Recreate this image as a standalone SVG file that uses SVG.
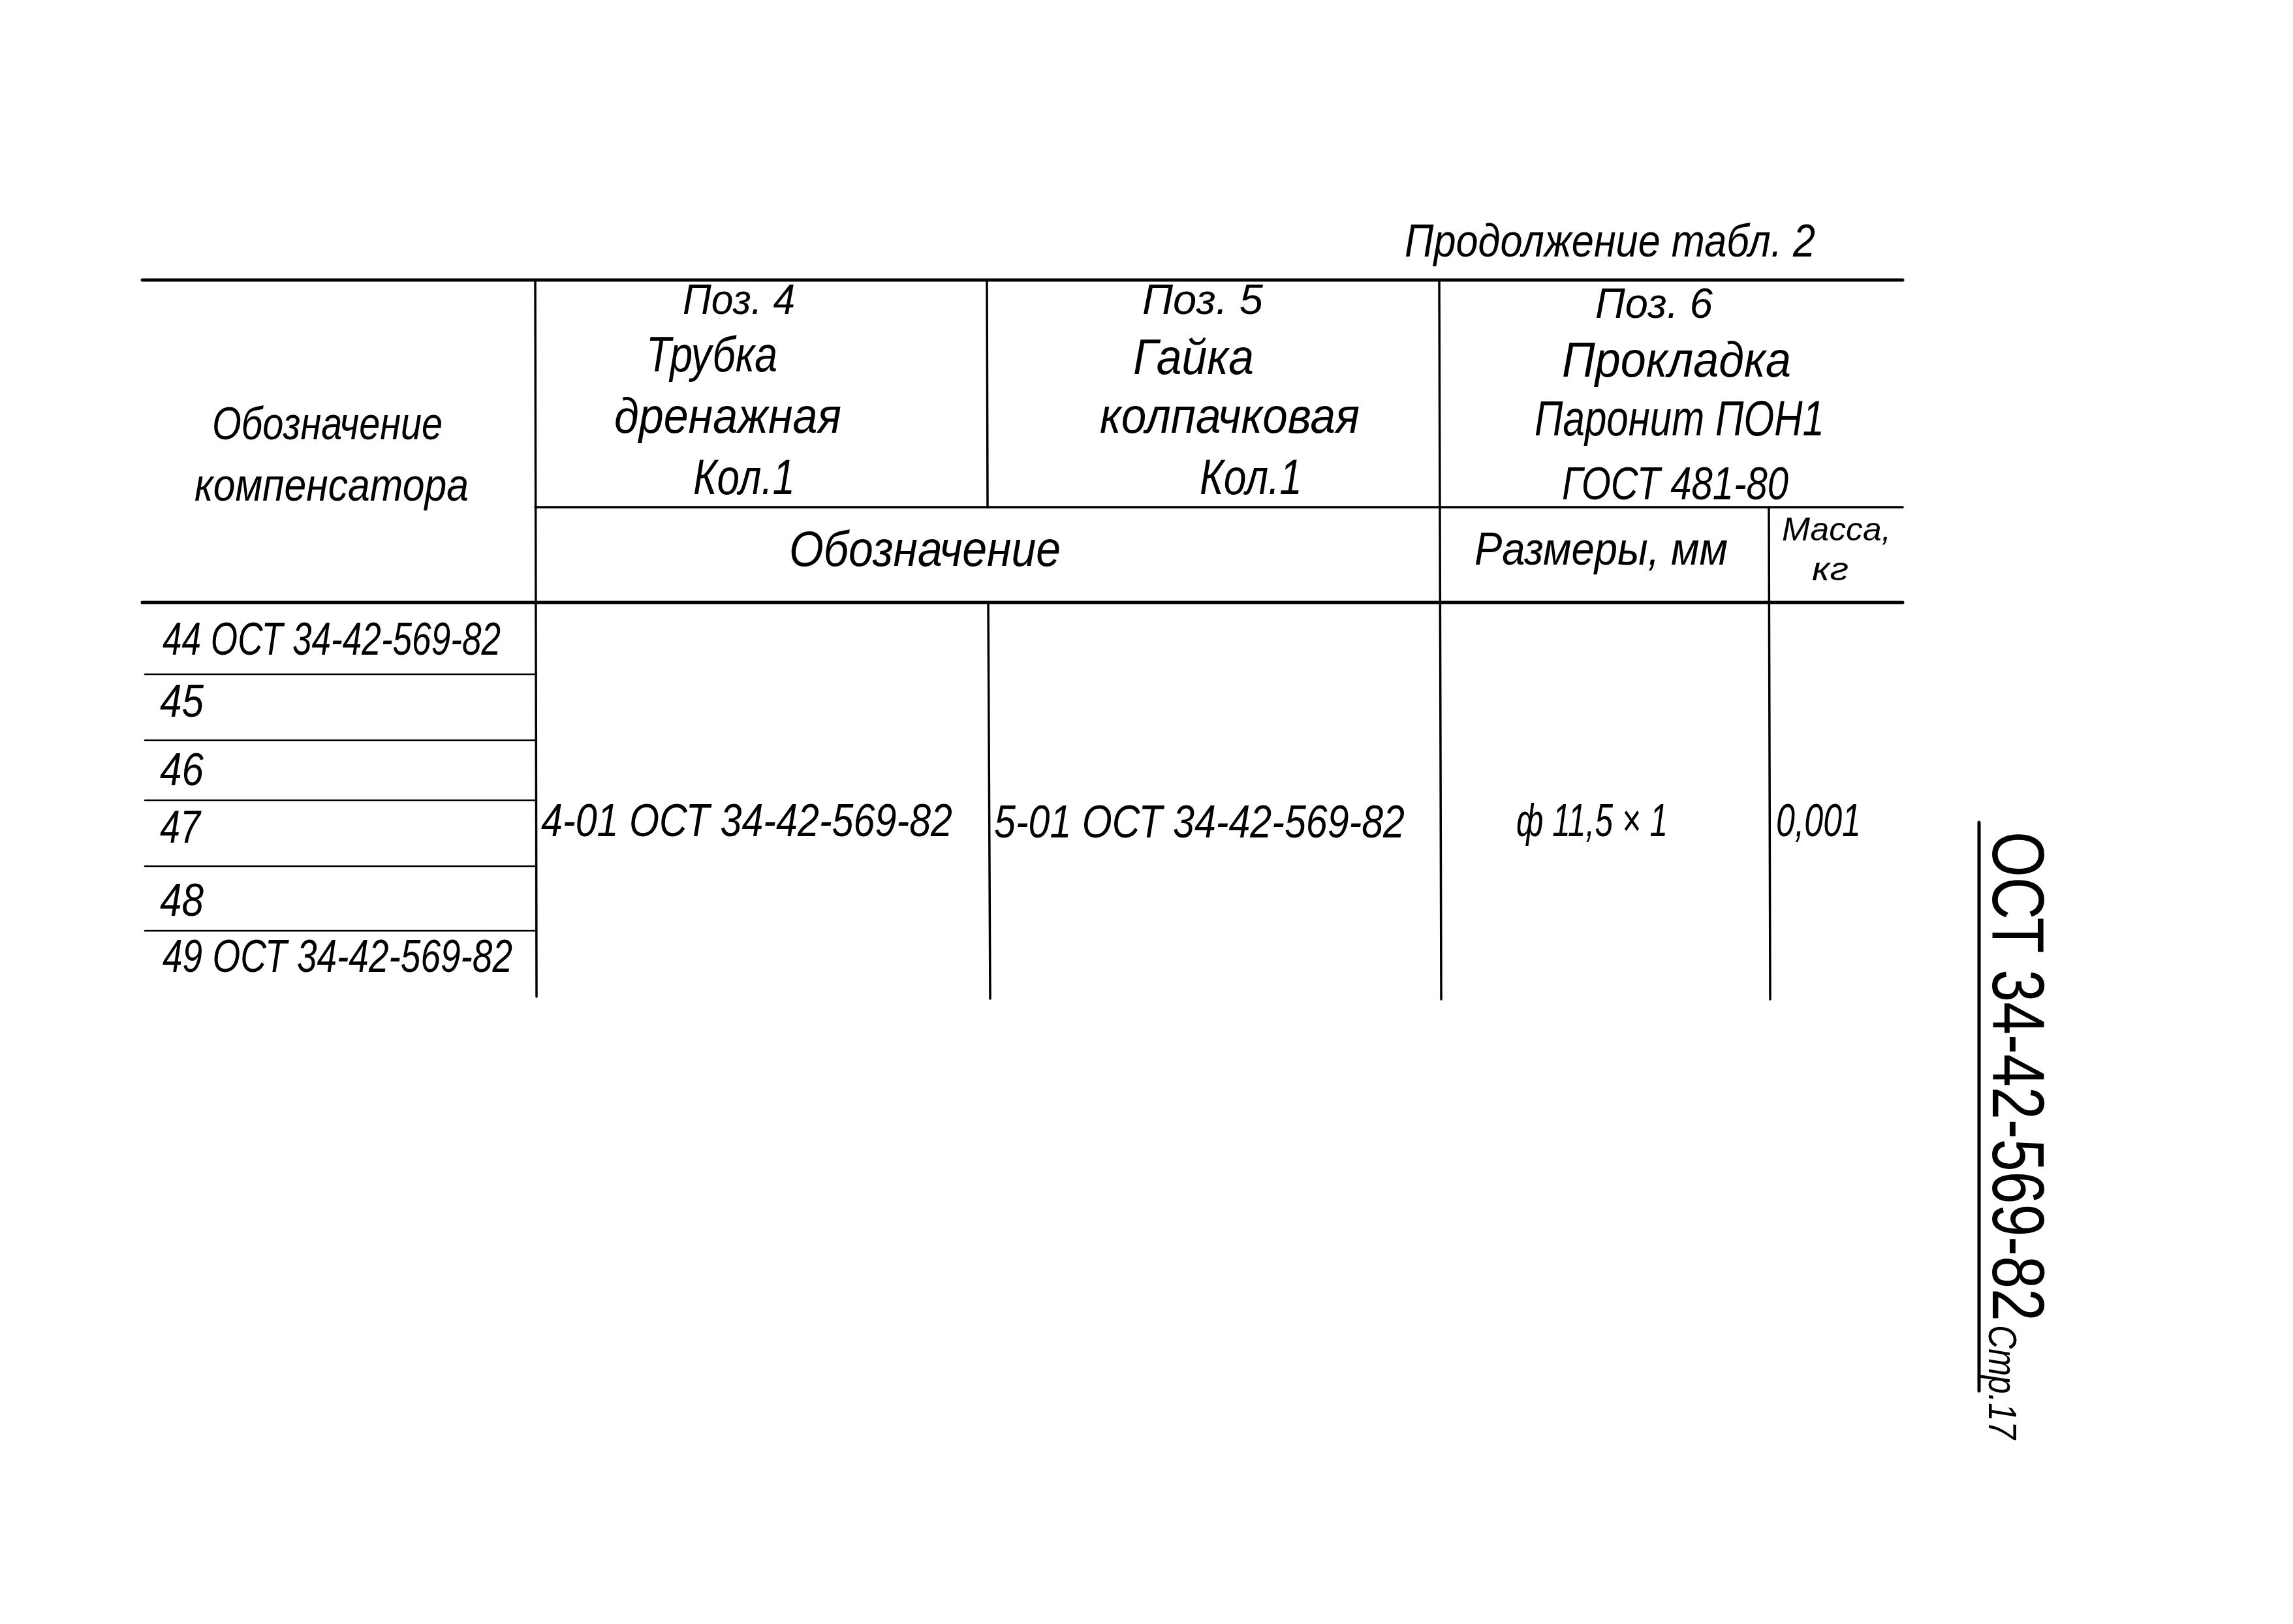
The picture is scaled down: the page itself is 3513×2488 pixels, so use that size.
<svg xmlns="http://www.w3.org/2000/svg" width="3513" height="2488" viewBox="0 0 3513 2488">
<style>
.t{font-family:"Liberation Sans","DejaVu Sans",sans-serif;font-style:italic;font-size:70px;fill:#000}
.p{font-size:64px}
.b{font-size:76px}
.s{font-size:50px}
.thick{stroke:#000;stroke-width:5;fill:none;stroke-linecap:round}
.mid{stroke:#000;stroke-width:3.5;fill:none;stroke-linecap:round}
.thin{stroke:#000;stroke-width:2.5;fill:none;stroke-linecap:round}
</style>
<rect width="3513" height="2488" fill="#fff"/>
<g id="caption">
<text class="t" x="2152" y="393" textLength="629" lengthAdjust="spacingAndGlyphs">Продолжение табл. 2</text>
</g>
<g id="grid">
<line class="thick" x1="218" y1="429" x2="2915" y2="429"/>
<line class="thick" x1="218" y1="923" x2="2915" y2="923"/>
<line class="mid" x1="820" y1="777" x2="2915" y2="777"/>
<line class="mid" x1="820" y1="429" x2="822" y2="1527"/>
<line class="mid" x1="1512" y1="429" x2="1513" y2="777"/>
<line class="mid" x1="1514" y1="923" x2="1517" y2="1530"/>
<line class="mid" x1="2205" y1="429" x2="2208" y2="1531"/>
<line class="mid" x1="2710" y1="777" x2="2712" y2="1531"/>
<line class="thin" x1="222" y1="1033" x2="822" y2="1033"/>
<line class="thin" x1="222" y1="1134" x2="822" y2="1134"/>
<line class="thin" x1="222" y1="1226" x2="822" y2="1226"/>
<line class="thin" x1="222" y1="1327" x2="822" y2="1327"/>
<line class="thin" x1="222" y1="1426" x2="822" y2="1426"/>
</g>
<g id="head-comp">
<text class="t" x="325" y="673" textLength="353" lengthAdjust="spacingAndGlyphs">Обозначение</text>
<text class="t" x="298" y="767" textLength="420" lengthAdjust="spacingAndGlyphs">компенсатора</text>
</g>
<g id="head-poz4">
<text class="t p" x="1046" y="481" textLength="172" lengthAdjust="spacingAndGlyphs">Поз. 4</text>
<text class="t b" x="990" y="569" textLength="201" lengthAdjust="spacingAndGlyphs">Трубка</text>
<text class="t b" x="941" y="663" textLength="348" lengthAdjust="spacingAndGlyphs">дренажная</text>
<text class="t b" x="1062" y="757" textLength="156" lengthAdjust="spacingAndGlyphs">Кол.1</text>
</g>
<g id="head-poz5">
<text class="t p" x="1750" y="481" textLength="185" lengthAdjust="spacingAndGlyphs">Поз. 5</text>
<text class="t b" x="1736" y="573" textLength="185" lengthAdjust="spacingAndGlyphs">Гайка</text>
<text class="t b" x="1685" y="663" textLength="398" lengthAdjust="spacingAndGlyphs">колпачковая</text>
<text class="t b" x="1838" y="757" textLength="157" lengthAdjust="spacingAndGlyphs">Кол.1</text>
</g>
<g id="head-poz6">
<text class="t p" x="2444" y="487" textLength="180" lengthAdjust="spacingAndGlyphs">Поз. 6</text>
<text class="t b" x="2393" y="577" textLength="351" lengthAdjust="spacingAndGlyphs">Прокладка</text>
<text class="t b" x="2351" y="667" textLength="444" lengthAdjust="spacingAndGlyphs">Паронит ПОН1</text>
<text class="t" x="2393" y="765" textLength="347" lengthAdjust="spacingAndGlyphs">ГОСТ 481-80</text>
</g>
<g id="head-row2">
<text class="t b" x="1209" y="867" textLength="416" lengthAdjust="spacingAndGlyphs">Обозначение</text>
<text class="t" x="2259" y="865" textLength="388" lengthAdjust="spacingAndGlyphs">Размеры, мм</text>
<text class="t s" x="2730" y="828" textLength="167" lengthAdjust="spacingAndGlyphs">Масса,</text>
<text class="t s" x="2776" y="889" textLength="56" lengthAdjust="spacingAndGlyphs">кг</text>
</g>
<g id="rows">
<text class="t" x="249" y="1003" textLength="518" lengthAdjust="spacingAndGlyphs">44 ОСТ 34-42-569-82</text>
<text class="t" x="245" y="1098" textLength="67" lengthAdjust="spacingAndGlyphs">45</text>
<text class="t" x="245" y="1203" textLength="67" lengthAdjust="spacingAndGlyphs">46</text>
<text class="t" x="245" y="1291" textLength="62" lengthAdjust="spacingAndGlyphs">47</text>
<text class="t" x="245" y="1403" textLength="67" lengthAdjust="spacingAndGlyphs">48</text>
<text class="t" x="249" y="1489" textLength="536" lengthAdjust="spacingAndGlyphs">49 ОСТ 34-42-569-82</text>
</g>
<g id="values">
<text class="t" x="829" y="1281" textLength="630" lengthAdjust="spacingAndGlyphs">4-01 ОСТ 34-42-569-82</text>
<text class="t" x="1523" y="1283" textLength="629" lengthAdjust="spacingAndGlyphs">5-01 ОСТ 34-42-569-82</text>
<text class="t" x="2323" y="1281" textLength="232" lengthAdjust="spacingAndGlyphs">ф 11,5 × 1</text>
<text class="t" x="2721" y="1281" textLength="130" lengthAdjust="spacingAndGlyphs">0,001</text>
</g>
<g id="stamp">
<line class="thick" x1="3032" y1="1260" x2="3032" y2="2131"/>
<text transform="translate(3053,1274) rotate(90)" x="0" y="0" font-family="Liberation Sans, DejaVu Sans, sans-serif" font-size="114" textLength="750" lengthAdjust="spacingAndGlyphs">ОСТ 34-42-569-82</text>
<text class="t" transform="translate(3047,2030) rotate(90)" x="0" y="0" textLength="175" lengthAdjust="spacingAndGlyphs" style="font-size:62px">Стр.17</text>
</g>
</svg>
